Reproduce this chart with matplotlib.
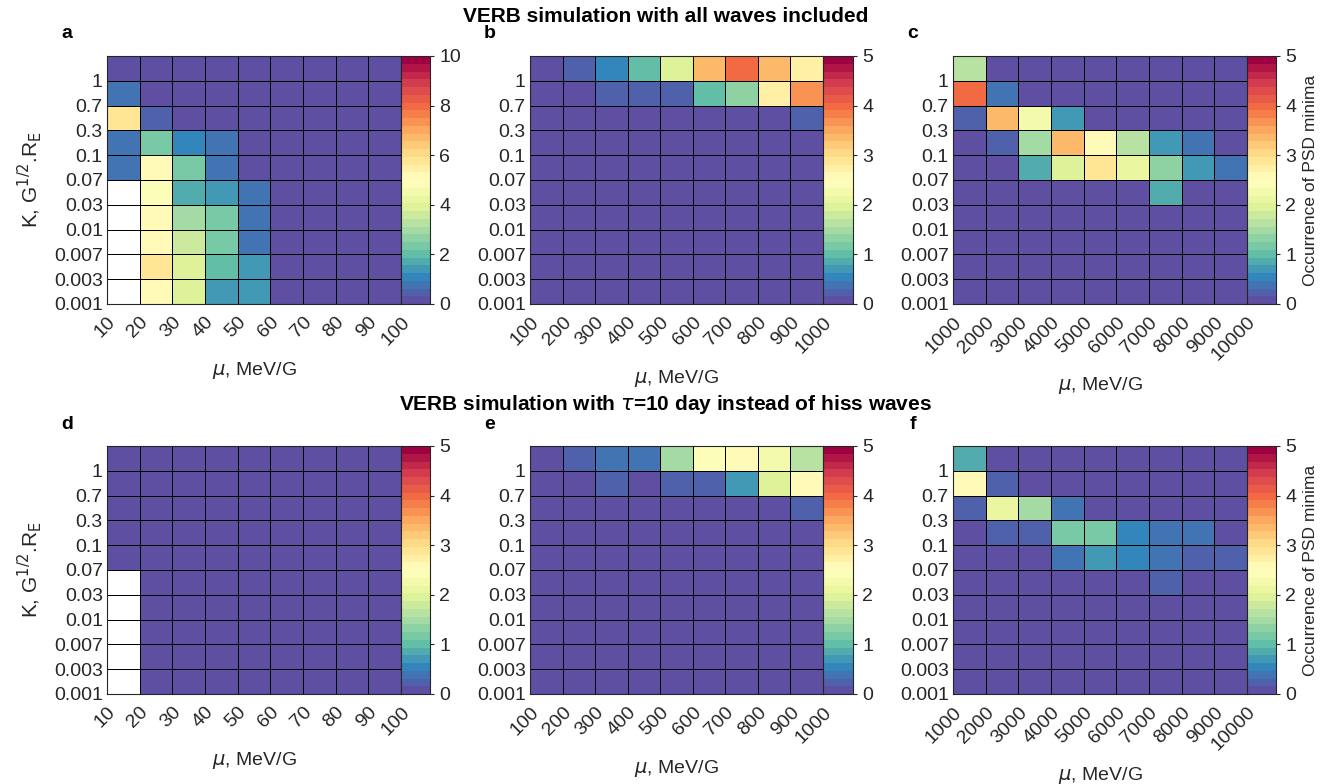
import numpy as np
import matplotlib
matplotlib.use("Agg")
import matplotlib.pyplot as plt

plt.rcParams['font.family'] = ['Liberation Sans', 'DejaVu Sans']
plt.rcParams['mathtext.fontset'] = 'dejavusans'

# ---- data (rows listed top -> bottom, 9 mu bins x 10 K bins) ----
nan = np.nan
k_labels = ["0.001", "0.003", "0.007", "0.01", "0.03", "0.07", "0.1", "0.3", "0.7", "1"]
mu_labels_a = ["10", "20", "30", "40", "50", "60", "70", "80", "90", "100"]
mu_labels_b = ["100", "200", "300", "400", "500", "600", "700", "800", "900", "1000"]
mu_labels_c = ["1000", "2000", "3000", "4000", "5000", "6000", "7000", "8000", "9000", "10000"]

occ_a = [
    [0, 0, 0, 0, 0, 0, 0, 0, 0],
    [0.7, 0, 0, 0, 0, 0, 0, 0, 0],
    [5.8, 0.5, 0, 0, 0, 0, 0, 0, 0],
    [0.8, 2.3, 1.1, 0.7, 0, 0, 0, 0, 0],
    [0.8, 5.0, 2.2, 0.8, 0, 0, 0, 0, 0],
    [nan, 4.9, 1.8, 1.4, 0.8, 0, 0, 0, 0],
    [nan, 5.3, 2.9, 2.2, 0.8, 0, 0, 0, 0],
    [nan, 5.3, 3.5, 2.2, 0.8, 0, 0, 0, 0],
    [nan, 5.7, 3.9, 1.9, 1.5, 0, 0, 0, 0],
    [nan, 5.3, 3.9, 1.4, 1.5, 0, 0, 0, 0],
]
occ_b = [
    [0, 0.3, 0.5, 1.0, 2.0, 3.4, 4.0, 3.4, 2.8],
    [0, 0, 0.3, 0.3, 0.3, 1.0, 1.3, 2.8, 3.7],
    [0, 0, 0, 0, 0, 0, 0, 0, 0.3],
    [0, 0, 0, 0, 0, 0, 0, 0, 0],
    [0, 0, 0, 0, 0, 0, 0, 0, 0],
    [0, 0, 0, 0, 0, 0, 0, 0, 0],
    [0, 0, 0, 0, 0, 0, 0, 0, 0],
    [0, 0, 0, 0, 0, 0, 0, 0, 0],
    [0, 0, 0, 0, 0, 0, 0, 0, 0],
    [0, 0, 0, 0, 0, 0, 0, 0, 0],
]
occ_c = [
    [1.6, 0, 0, 0, 0, 0, 0, 0, 0],
    [4.0, 0.4, 0, 0, 0, 0, 0, 0, 0],
    [0.3, 3.4, 2.2, 0.7, 0, 0, 0, 0, 0],
    [0, 0.3, 1.5, 3.3, 2.5, 1.7, 0.7, 0.4, 0],
    [0, 0, 0.9, 1.9, 2.9, 2.1, 1.3, 0.7, 0.4],
    [0, 0, 0, 0, 0, 0, 0.9, 0, 0],
    [0, 0, 0, 0, 0, 0, 0, 0, 0],
    [0, 0, 0, 0, 0, 0, 0, 0, 0],
    [0, 0, 0, 0, 0, 0, 0, 0, 0],
    [0, 0, 0, 0, 0, 0, 0, 0, 0],
]
occ_d = [
    [0, 0, 0, 0, 0, 0, 0, 0, 0],
    [0, 0, 0, 0, 0, 0, 0, 0, 0],
    [0, 0, 0, 0, 0, 0, 0, 0, 0],
    [0, 0, 0, 0, 0, 0, 0, 0, 0],
    [0, 0, 0, 0, 0, 0, 0, 0, 0],
    [nan, 0, 0, 0, 0, 0, 0, 0, 0],
    [nan, 0, 0, 0, 0, 0, 0, 0, 0],
    [nan, 0, 0, 0, 0, 0, 0, 0, 0],
    [nan, 0, 0, 0, 0, 0, 0, 0, 0],
    [nan, 0, 0, 0, 0, 0, 0, 0, 0],
]
occ_e = [
    [0, 0.3, 0.45, 0.45, 1.5, 2.4, 2.5, 2.3, 1.6],
    [0, 0, 0.3, 0, 0.3, 0.3, 0.7, 2.0, 2.5],
    [0, 0, 0, 0, 0, 0, 0, 0, 0.3],
    [0, 0, 0, 0, 0, 0, 0, 0, 0],
    [0, 0, 0, 0, 0, 0, 0, 0, 0],
    [0, 0, 0, 0, 0, 0, 0, 0, 0],
    [0, 0, 0, 0, 0, 0, 0, 0, 0],
    [0, 0, 0, 0, 0, 0, 0, 0, 0],
    [0, 0, 0, 0, 0, 0, 0, 0, 0],
    [0, 0, 0, 0, 0, 0, 0, 0, 0],
]
occ_f = [
    [0.9, 0, 0, 0, 0, 0, 0, 0, 0],
    [2.6, 0.3, 0, 0, 0, 0, 0, 0, 0],
    [0.3, 2.1, 1.5, 0.4, 0, 0, 0, 0, 0],
    [0, 0.3, 0.3, 1.1, 1.1, 0.5, 0.4, 0.35, 0],
    [0, 0, 0, 0.4, 0.7, 0.5, 0.4, 0.3, 0.3],
    [0, 0, 0, 0, 0, 0, 0.3, 0, 0],
    [0, 0, 0, 0, 0, 0, 0, 0, 0],
    [0, 0, 0, 0, 0, 0, 0, 0, 0],
    [0, 0, 0, 0, 0, 0, 0, 0, 0],
    [0, 0, 0, 0, 0, 0, 0, 0, 0],
]

# ---- figure ----
W, H = 1331, 784
fig = plt.figure(figsize=(W / 100, H / 100), dpi=100)

cmap = plt.get_cmap('Spectral_r', 32).copy()
cmap.set_bad('white')
txt_col = '#262626'


def px_box(x0, y0, x1, y1):
    return [x0 / W, 1 - y1 / H, (x1 - x0) / W, (y1 - y0) / H]


panels = [
    # letter, data, mu labels, vmax, cbar ticks, plot x0, x1, cbar x1, y0, y1
    ("a", occ_a, mu_labels_a, 10, [0, 2, 4, 6, 8, 10], 107, 401, 430, 56, 304),
    ("b", occ_b, mu_labels_b, 5, [0, 1, 2, 3, 4, 5], 530, 823, 853, 56, 304),
    ("c", occ_c, mu_labels_c, 5, [0, 1, 2, 3, 4, 5], 953, 1247, 1276, 56, 304),
    ("d", occ_d, mu_labels_a, 5, [0, 1, 2, 3, 4, 5], 107, 401, 430, 446, 694),
    ("e", occ_e, mu_labels_b, 5, [0, 1, 2, 3, 4, 5], 530, 823, 853, 446, 694),
    ("f", occ_f, mu_labels_c, 5, [0, 1, 2, 3, 4, 5], 953, 1247, 1276, 446, 694),
]

for letter, occ, mu_lab, vmax, cticks, x0, x1, cx1, y0, y1 in panels:
    ax = fig.add_axes(px_box(x0, y0, x1, y1))
    z = np.ma.masked_invalid(np.flipud(np.array(occ, dtype=float)))
    mesh = ax.pcolormesh(np.arange(10), np.arange(11), z, cmap=cmap,
                         vmin=0, vmax=vmax, edgecolors='k', linewidth=0.7)
    ax.set_xlim(0, 9)
    ax.set_ylim(0, 10)
    ax.set_xticks(np.arange(10))
    ax.set_xticklabels(mu_lab, rotation=45, ha='right', va='top',
                       rotation_mode='anchor', fontsize=14)
    ax.set_yticks(np.arange(10))
    ax.set_yticklabels(k_labels, fontsize=14)
    ax.tick_params(axis='x', length=0, pad=7, colors=txt_col)
    ax.tick_params(axis='y', length=0, pad=3, colors=txt_col)
    for s in ax.spines.values():
        s.set_color(txt_col)
        s.set_linewidth(0.8)
    ax.set_xlabel(r'$\mu$, MeV/G', fontsize=14, labelpad=8, color=txt_col)
    if letter in ("a", "d"):
        ax.set_ylabel(r'K, G$^{1/2}$.R$_\mathrm{E}$', fontsize=15, labelpad=7,
                      color=txt_col)

    cax = fig.add_axes(px_box(x1, y0, cx1, y1))
    cb = fig.colorbar(mesh, cax=cax, ticks=cticks)
    cb.ax.tick_params(labelsize=14, length=3, direction='out', colors=txt_col)
    cb.outline.set_linewidth(0.8)
    cb.outline.set_edgecolor(txt_col)
    if letter in ("c", "f"):
        cb.set_label('Occurrence of PSD minima', fontsize=12.5, labelpad=5,
                     color=txt_col)

    fig.text((x0 - 40) / W, 1 - (y0 - 22) / H, letter, fontsize=14,
             fontweight='bold', ha='center', va='center')

fig.text(0.5, 1 - 16 / H, 'VERB simulation with all waves included',
         fontsize=15, fontweight='bold', ha='center', va='center')
fig.text(0.5, 1 - 405 / H,
         r'VERB simulation with $\tau$=10 day instead of hiss waves',
         fontsize=15, fontweight='bold', ha='center', va='center')

fig.savefig('out.png', dpi=100)
